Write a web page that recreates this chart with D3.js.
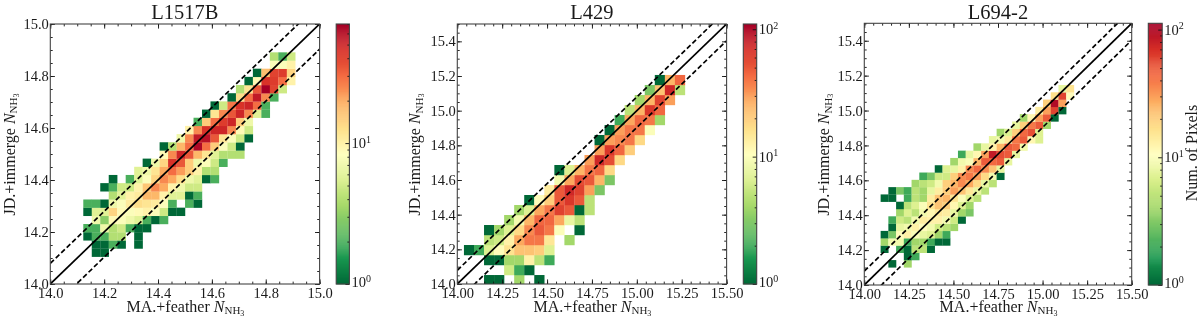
<!DOCTYPE html>
<html><head><meta charset="utf-8">
<script src="https://cdn.jsdelivr.net/npm/d3@7"></script>
<style>
html,body{margin:0;padding:0;background:#fff;overflow:hidden}
svg{display:block;filter:blur(0.4px)}
text{font-family:"Liberation Serif",serif;fill:#1a1a1a}
</style></head><body>
<div id="chart"></div>
<script>
// Each row: [rowFromBottom, firstColumn, counts...]; 0 means an empty cell
const L1517B_rows = [
[0,1,1,1],
[1,1,1,1,2,1,0,1],
[2,0,1,2,2,4,4,0,1],
[3,0,2,2,7,4,5,2,1,1],
[4,1,7,3,9,8,7,6,2,1,2],
[5,0,1,6,6,14,9,8,9,10,8,5,1,1],
[6,0,2,2,1,7,8,11,13,12,11,8,2,0,2,1],
[7,3,4,6,10,11,18,18,10,6,6,1,2],
[8,2,1,2,5,5,10,16,25,20,10,7,5,5],
[9,3,1,0,2,6,8,14,25,20,13,7,6,1,2],
[10,6,6,7,12,20,30,22,15,10,4,4],
[11,7,1,7,14,45,35,15,7,8,5,2],
[12,9,9,25,50,35,18,12,6,4,4,4],
[13,9,1,4,18,30,65,30,15,8,5,1],
[14,11,7,25,55,60,35,12,8,5,1],
[15,12,10,25,45,50,50,25,9,5],
[16,13,2,15,30,42,50,15,7],
[17,14,1,12,25,35,50,25,6,2],
[18,15,1,5,28,45,50,30,2],
[19,17,1,13,30,55,25,2],
[20,18,4,12,35,70,40,5],
[21,19,1,9,45,42,30,10],
[22,20,1,17,40,42,14],
[23,22,8,8,10],
[24,22,4,2,5]
];
const L429_rows = [
[0,2,1,1,0,4,0,1],
[1,4,6,2,1],
[2,2,1,1,4,4,13,5,2],
[3,0,1,2,7,11,16,22,22,20,7],
[4,2,5,6,13,28,40,40,15,0,4],
[5,2,1,4,7,18,35,50,40,10,0,1],
[6,4,4,9,25,45,45,28,8,5],
[7,5,4,7,28,40,60,50,1,5],
[8,6,1,11,20,50,65,50,5],
[9,8,14,50,75,60,30,3],
[10,9,9,28,55,50,25,3],
[11,9,1,7,25,40,45,18],
[12,12,30,75,55,18],
[13,13,30,65,45,20],
[14,13,1,30,35,40,18],
[15,14,1,30,40,40,10],
[16,15,2,28,45,40,4],
[17,16,5,25,65,45],
[18,17,4,25,60,30],
[19,18,3,22,75,5],
[20,19,1,25,45]
];
const L694_rows = [
[0,1,1,0,4],
[1,3,1,2],
[2,0,1,0,2,1,5,5,1],
[3,0,4,9,9,2,4,4,2,1,1],
[4,0,1,3,11,13,10,8,7,4,2],
[5,1,1,8,9,13,11,9,6,5,4],
[6,1,2,6,5,9,14,13,13,9,6,1],
[7,2,4,7,5,9,12,15,14,8,4,3],
[8,2,1,5,7,10,16,22,20,12,7,4],
[9,0,1,1,0,2,5,4,14,22,25,16,10,7,5],
[10,1,1,3,2,5,4,8,14,20,30,22,15,8,5],
[11,4,4,5,6,9,20,25,35,28,18,8,5],
[12,5,2,3,6,6,20,35,40,30,18,9,1],
[13,7,1,7,8,13,35,45,35,22,8],
[14,9,4,9,10,25,50,45,50,8],
[15,10,2,8,12,30,85,55,50,8],
[16,12,4,8,13,25,50,45,9],
[17,14,8,9,15,40,50,12,7],
[18,15,4,7,20,45,55,7],
[19,17,8,20,40,50,4],
[20,18,4,12,30,50,1],
[21,20,14,30,60,1],
[22,21,20,100,30],
[23,22,17,60,11],
[24,23,8,16]
];
const titles = ["L1517B","L429","L694-2"];
const maxCounts = [70,110,112];
const axisEnds = [15,15.5,15.5];
const xTicks = [[14,14.2,14.4,14.6,14.8,15],[14,14.25,14.5,14.75,15,15.25,15.5],[14,14.25,14.5,14.75,15,15.25,15.5]];
const yTicks = [[14,14.2,14.4,14.6,14.8,15],[14,14.2,14.4,14.6,14.8,15,15.2,15.4],[14,14.2,14.4,14.6,14.8,15,15.2,15.4]];
const xFormats = [".1f",".2f",".2f"];
const binEdgesX = [[14.1225,14.9097],[14.037,15.268],[14.0916,15.176]];
const binEdgesY = [[14.105,14.891],[13.994,15.206],[14.101,15.1465]];
const binCounts = [[25,25],[22,21],[25,25]];
const rowsAll = [L1517B_rows,L429_rows,L694_rows];
const upperBand = Math.log10(1.2), lowerBand = Math.log10(0.8);
const colorStops = d3.schemeRdYlGn[11].slice().reverse();

const W=1200,H=319;
const frames = [
 {l:50.3,r:319.6,t:24,b:284,cl:336.2,cr:349.4,yl:9.5},
 {l:457.3,r:726.6,t:24,b:284,cl:743.3,cr:756.7,yl:415},
 {l:864.3,r:1131.7,t:23.3,b:285,cl:1148.3,cr:1162.2,yl:824}
];
const svg=d3.select("#chart").append("svg").attr("width",W).attr("height",H);
const defs=svg.append("defs");
const ramp=d3.piecewise(d3.interpolateRgb,colorStops);

function minorTicks(a,b,s){const o=[];for(let v=Math.round(a/s);v*s<=b+1e-9;v++)o.push(+(v*s).toFixed(4));return o;}

function styleAxis(g){g.select(".domain").remove();g.selectAll("line").attr("stroke","#111").attr("stroke-width",0.9);}

frames.forEach((f,i)=>{
  const hi=axisEnds[i];
  const x=d3.scaleLinear().domain([14,hi]).range([f.l,f.r]);
  const y=d3.scaleLinear().domain([14,hi]).range([f.b,f.t]);
  const logT=d3.scaleLog().domain([1,maxCounts[i]]).range([0,1]);
  const color=v=>ramp(logT(v));
  const g=svg.append("g");
  defs.append("clipPath").attr("id","clip"+i).append("rect").attr("x",f.l).attr("y",f.t).attr("width",f.r-f.l).attr("height",f.b-f.t);

  // cells
  const bx=d3.scaleLinear().domain([0,binCounts[i][0]]).range(binEdgesX[i]);
  const by=d3.scaleLinear().domain([0,binCounts[i][1]]).range(binEdgesY[i]);
  const cells=rowsAll[i].flatMap(row=>row.slice(2).map((v,k)=>({r:row[0],c:row[1]+k,v})).filter(d=>d.v>0));
  g.append("g").attr("clip-path",`url(#clip${i})`).selectAll("rect").data(cells).join("rect")
    .attr("x",d=>x(bx(d.c))).attr("y",d=>y(by(d.r+1)))
    .attr("width",d=>x(bx(d.c+1))-x(bx(d.c))+0.2).attr("height",d=>y(by(d.r))-y(by(d.r+1))+0.2)
    .attr("fill",d=>color(d.v));

  // reference lines
  const lineG=g.append("g").attr("clip-path",`url(#clip${i})`).attr("fill","none").attr("stroke","#000");
  const ln=d3.line().x(d=>x(d[0])).y(d=>y(d[1]));
  lineG.append("path").attr("d",ln([[14,14],[hi,hi]])).attr("stroke-width",1.7);
  lineG.append("path").attr("d",ln([[14,14+upperBand],[hi,hi+upperBand]])).attr("stroke-width",1.7).attr("stroke-dasharray","5,2.6");
  lineG.append("path").attr("d",ln([[14,14+lowerBand],[hi,hi+lowerBand]])).attr("stroke-width",1.7).attr("stroke-dasharray","5,2.6");

  // axes: major + minor on all four sides, inward
  const mx=minorTicks(14,hi,0.05), my=minorTicks(14,hi,0.05);
  const addMinor=(axis,tr,vals)=>g.append("g").attr("transform",tr).call(axis.tickValues(vals).tickSize(-2.4).tickFormat("")).call(styleAxis);
  addMinor(d3.axisBottom(x),`translate(0,${f.b})`,mx);
  addMinor(d3.axisTop(x),`translate(0,${f.t})`,mx);
  addMinor(d3.axisLeft(y),`translate(${f.l},0)`,my);
  addMinor(d3.axisRight(y),`translate(${f.r},0)`,my);
  const bot=g.append("g").attr("transform",`translate(0,${f.b})`)
    .call(d3.axisBottom(x).tickValues(xTicks[i]).tickSize(-4.6).tickPadding(4).tickFormat(d3.format(xFormats[i]))).call(styleAxis);
  bot.selectAll("text").attr("font-size",14.5).attr("font-family",null).attr("dy","0.71em");
  const lef=g.append("g").attr("transform",`translate(${f.l},0)`)
    .call(d3.axisLeft(y).tickValues(yTicks[i]).tickSize(-4.6).tickPadding(1.5).tickFormat(d3.format(".1f"))).call(styleAxis);
  lef.selectAll("text").attr("font-size",14.5).attr("font-family",null);
  g.append("g").attr("transform",`translate(0,${f.t})`).call(d3.axisTop(x).tickValues(xTicks[i]).tickSize(-4.6).tickFormat("")).call(styleAxis);
  g.append("g").attr("transform",`translate(${f.r},0)`).call(d3.axisRight(y).tickValues(yTicks[i]).tickSize(-4.6).tickFormat("")).call(styleAxis);
  g.append("rect").attr("x",f.l).attr("y",f.t).attr("width",f.r-f.l).attr("height",f.b-f.t).attr("fill","none").attr("stroke","#444").attr("stroke-width",1.1);

  // title + labels
  const cx=(f.l+f.r)/2;
  g.append("text").attr("x",cx).attr("y",18.5).attr("text-anchor","middle").attr("font-size",20.5).text(titles[i]);
  const lab=(sel,pre)=>{
    sel.append("tspan").text(pre);
    sel.append("tspan").attr("font-style","italic").text("N");
    sel.append("tspan").attr("font-size",11).attr("dy",2.8).text("NH");
    sel.append("tspan").attr("font-size",8).attr("dy",1.2).text("3");
  };
  const xl=g.append("text").attr("x",cx+0.5).attr("y",311.5).attr("text-anchor","middle").attr("font-size",16);
  lab(xl,"MA.+feather ");
  const yl=g.append("text").attr("transform",`translate(${f.yl+5},${(f.t+f.b)/2+0.5}) rotate(-90)`).attr("text-anchor","middle").attr("font-size",16);
  lab(yl,"JD.+immerge ");

  // colorbar
  const cbT=d3.scaleLinear().domain([0,1]).range([f.b,f.t]);
  const steps=d3.range(0,256);
  const cb=g.append("g");
  cb.selectAll("rect").data(steps).join("rect").attr("x",f.cl).attr("width",f.cr-f.cl)
    .attr("y",d=>cbT((d+1)/256)).attr("height",d=>cbT(d/256)-cbT((d+1)/256)+0.4).attr("fill",d=>ramp(d/255));
  const cy=d3.scaleLog().domain([1,maxCounts[i]]).range([f.b,f.t]);
  const minors=[];for(const p of [1,10])for(let k=2;k<=9;k++)if(k*p<=maxCounts[i])minors.push(k*p);
  g.append("g").attr("transform",`translate(${f.cr},0)`).call(d3.axisRight(cy).tickValues(minors).tickSize(-2).tickFormat("")).call(styleAxis);
  const decades=[1,10,100].filter(v=>v<=maxCounts[i]);
  g.append("g").attr("transform",`translate(${f.cr},0)`).call(d3.axisRight(cy).tickValues(decades).tickSize(-4).tickFormat("")).call(styleAxis);
  g.append("rect").attr("x",f.cl).attr("y",f.t).attr("width",f.cr-f.cl).attr("height",f.b-f.t).attr("fill","none").attr("stroke","#444").attr("stroke-width",1.1);
  decades.forEach(v=>{
    const t=g.append("text").attr("x",f.cr+2).attr("y",Math.min(cy(v)+5,f.b+3)).attr("font-size",14.5);
    t.append("tspan").text("10");
    t.append("tspan").attr("font-size",10).attr("dy",-5.5).text(Math.round(Math.log10(v)));
  });
  if(i===2){
    g.append("text").attr("transform",`translate(1197,153) rotate(-90)`).attr("text-anchor","middle").attr("font-size",16).text("Num. of Pixels");
  }
});
</script></body></html>
